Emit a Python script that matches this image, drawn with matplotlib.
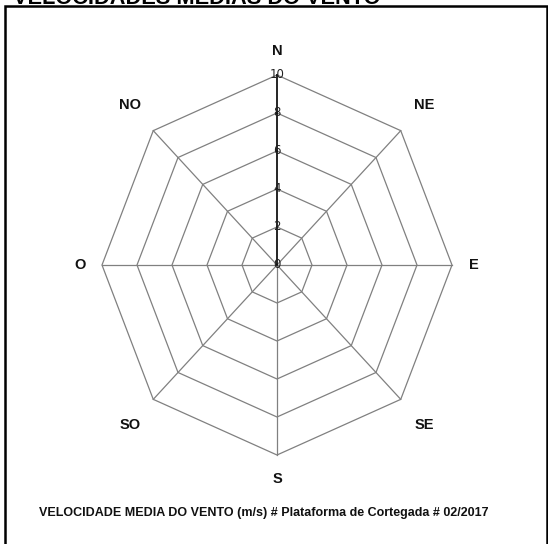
import numpy as np
import matplotlib
matplotlib.use("Agg")
import matplotlib.pyplot as plt
from matplotlib.patches import Rectangle

# wind directions (clockwise from north) and mean speeds (m/s)
directions = ["N", "NE", "E", "SE", "S", "SO", "O", "NO"]
speeds = [0, 0, 0, 0, 0, 0, 0, 0]
rings = [2, 4, 6, 8, 10]
tick_labels = ["0", "2", "4", "6", "8", "10"]

title = "VELOCIDADES MEDIAS DO VENTO"
caption = "VELOCIDADE MEDIA DO VENTO (m/s) # Plataforma de Cortegada # 02/2017"

sans = ["Liberation Sans", "DejaVu Sans"]


def to_xy(r, ang):
    """Radius/angle (clockwise from north) -> x, y"""
    return r * np.sin(ang), r * np.cos(ang)


def fit_width(fig, txt, width_px):
    """Shrink/grow a text so it spans about width_px pixels"""
    r = fig.canvas.get_renderer()
    w = txt.get_window_extent(renderer=r).width
    txt.set_fontsize(txt.get_fontsize() * width_px / w)


fig = plt.figure(figsize=(5.48, 5.44), dpi=100)
ax = fig.add_axes([0, 0, 1, 1])
ax.set_xlim(-277 / 17.5, 271 / 17.5)
ax.set_ylim(-279 / 19.0, 265 / 19.0)
ax.axis("off")

angles = np.arange(len(directions)) * 2 * np.pi / len(directions)
closed = np.append(angles, angles[0])

# octagon grid
for r in rings:
    x, y = to_xy(r, closed)
    ax.plot(x, y, color="#808080", lw=0.9, zorder=1)

# spokes
for a in angles[1:]:
    x, y = to_xy(np.array([0, rings[-1]]), a)
    ax.plot(x, y, color="#808080", lw=0.9, zorder=1)

# radial axis on north
ax.plot([0, 0], [0, rings[-1]], color="black", lw=1.2, zorder=2)
for v, lab in zip([0] + rings, tick_labels):
    ax.text(0, v + 0.05, lab, ha="center", va="center", fontsize=8.5,
            color="#222222", zorder=3)

# direction labels
for d, a in zip(directions, angles):
    lr = 11.25 if d in ("N", "E", "S", "O") else 11.9
    x, y = to_xy(lr, a)
    ax.text(x, y, d, ha="center", va="center", fontsize=10.5,
            fontweight="bold", family=sans, color="#111111")

# data series
sx, sy = to_xy(np.append(speeds, speeds[0]), closed)
ax.plot(sx, sy, color="#1f3fbf", lw=1.5, zorder=4)

# frame and texts
fig.patches.append(Rectangle((5 / 548, -0.05), 542 / 548, 1.05 - 6 / 544,
                             transform=fig.transFigure, fill=False,
                             edgecolor="black", lw=1.8))
t1 = fig.text(13 / 548, 1 - 4 / 544, title, ha="left", va="baseline",
              fontsize=14, fontweight="bold", family=sans)
t2 = fig.text(264 / 548, 1 - 513 / 544, caption, ha="center", va="center",
              fontsize=10, fontweight="bold", family=sans, color="#111111")
fit_width(fig, t1, 367)
fit_width(fig, t2, 448)

fig.savefig("out.png", dpi=100, facecolor="white")
